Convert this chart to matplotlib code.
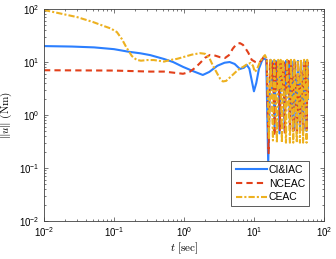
import matplotlib
matplotlib.use("Agg")
import matplotlib.pyplot as plt

plt.rcParams['font.family'] = ['Liberation Sans', 'DejaVu Sans']
plt.rcParams['mathtext.fontset'] = 'cm'

# ---- data ----
# CI&IAC (blue)
t_ci = [0.01, 0.025, 0.052, 0.1, 0.164, 0.24, 0.33, 0.52, 0.7, 0.97, 1.4, 1.86, 2.3, 3.0, 3.8, 4.5, 5.3,
        6.3, 7.2, 7.9, 8.6, 9.3, 10.0, 10.8, 11.8, 13.0, 13.8,
        15.0, 16.0, 17.2, 18.0, 18.9, 19.7, 20.5, 21.4, 22.3, 23.2, 24.2, 25.2, 26.3, 27.5, 28.8, 30.0, 31.3,
        32.8, 34.2, 35.5, 36.6, 38.2, 39.6, 41.1, 42.6, 44.0, 45.6, 47.2, 48.8, 50.6, 52.3, 54.0, 55.5, 56.6, 58.0, 59.0]
u_ci = [20, 19.6, 18.9, 17.5, 15.6, 14.6, 13.5, 11.4, 10.0, 8.1, 6.6, 5.7, 6.5, 8.5, 9.7, 10, 9.2,
        7.4, 7.8, 8.8, 7.5, 4.5, 2.8, 4.0, 7.5, 10.5, 11.8,
        11, 0.12, 11, 3, 10.5, 0.5, 10.5, 3, 10, 0.45, 10.5, 3, 10, 0.5, 10.5, 3, 10,
        0.5, 10.5, 3, 0.55, 10, 3, 0.5, 10.5, 3, 0.5, 10, 3, 0.5, 10.5, 3, 10, 0.5, 10, 2]

# NCEAC (red)
t_nc = [0.01, 0.1, 0.33, 0.52, 0.97, 1.2, 1.45, 1.7, 2.0, 2.35, 2.8, 3.3, 3.85, 4.4, 5.0, 5.6, 6.3, 7.0,
        7.6, 8.3, 9.3, 10.5, 11.5, 12.6, 13.8,
        15.2, 16.2, 17.0, 17.9, 18.8, 19.6, 20.6, 21.5, 22.4, 23.4, 24.4, 25.3, 26.5, 27.6, 28.9, 30.1, 31.4,
        32.9, 34.0, 35.3, 36.7, 38.0, 39.5, 41.2, 42.4, 44.2, 45.7, 47.0, 48.9, 50.7, 52.0, 54.2, 55.7, 56.8, 58.2, 59.0]
u_nc = [7.0, 6.9, 6.6, 6.6, 6.0, 6.5, 7.8, 9.6, 12.0, 13.6, 13.2, 12.3, 11.9, 13.5, 18, 21.5, 22.8, 21,
        18, 15, 11, 10, 9.6, 10.5, 12.5,
        11, 0.19, 10.5, 3.5, 10, 0.4, 10.5, 3, 10, 0.5, 10.5, 3, 10, 0.45, 10, 3, 10.5,
        0.5, 10, 3, 0.5, 10.5, 3, 0.45, 10, 3, 0.5, 10.5, 3, 0.5, 10, 3, 10.5, 0.5, 10, 2]

# CEAC (yellow)
t_ce = [0.01, 0.0296, 0.05, 0.072, 0.09, 0.11, 0.13, 0.15, 0.18, 0.21, 0.243, 0.3, 0.37, 0.45, 0.52, 0.63,
        0.8, 1.0, 1.3, 1.7, 2.0, 2.3, 2.6, 3.0, 3.3, 3.6, 4.0, 4.6, 5.5, 6.3, 7.0, 7.9, 9.0, 9.7, 10.3,
        11.0, 12.0, 13.2, 14.4,
        15.4, 16.4, 17.3, 17.9, 18.7, 19.5, 20.4, 21.3, 22.2, 23.2, 24.1, 25.1, 26.0, 27.1, 28.7, 29.8,
        30.9, 32.7, 33.8, 35.0, 36.5, 37.7, 39.0, 41.0, 42.3, 43.8, 45.5, 46.9, 48.6, 50.5, 52.2, 54.0, 56.5, 57.8, 59.0]
u_ce = [96, 70.6, 57, 47.7, 43, 36.8, 27, 19, 13, 11, 10.6, 10.9, 10.9, 10.5, 10.2, 10.9,
        11.5, 12.5, 13.8, 14.7, 14.3, 12, 8.5, 6.0, 4.8, 4.3, 4.4, 5.2, 6.5, 7.5, 8.1, 9.0, 9.6, 8.5, 6.5,
        7.2, 9.5, 12.0, 13.5,
        11, 0.35, 11, 3, 0.33, 11, 3, 0.3, 11, 3, 11, 0.3, 11, 3, 0.3, 11,
        3, 0.3, 11, 3, 0.3, 11, 3, 0.3, 11, 3, 0.3, 11, 3, 0.3, 11, 3, 0.3, 11, 2]

labels = ['CI&IAC', 'NCEAC', 'CEAC']
colors = ['#2B7FFF', '#E2401A', '#EDB120']

fig = plt.figure(figsize=(3.36, 2.59), dpi=100)
ax = fig.add_axes([0.131, 0.147, 0.833, 0.818])

ax.plot(t_ci, u_ci, '-', color=colors[0], lw=1.5, label=labels[0])
ax.plot(t_nc, u_nc, '--', color=colors[1], lw=1.5, dashes=(3, 2), label=labels[1])
ax.plot(t_ce, u_ce, '-.', color=colors[2], lw=1.5, dashes=(3, 1, 1, 1), label=labels[2])

ax.set_xscale('log')
ax.set_yscale('log')
ax.set_xlim(1e-2, 1e2)
ax.set_ylim(1e-2, 1e2)
ax.set_xticks([1e-2, 1e-1, 1e0, 1e1, 1e2])
ax.set_yticks([1e-2, 1e-1, 1e0, 1e1, 1e2])

ax.tick_params(which='both', direction='in', top=True, right=True,
               color='0.25', labelsize=7, width=0.5, pad=3)
ax.tick_params(which='major', length=3)
ax.tick_params(which='minor', length=1.6)
for s in ax.spines.values():
    s.set_color('0.25')
    s.set_linewidth(0.6)

ax.set_xlabel(r'$t\ \mathrm{[sec]}$', fontsize=8, labelpad=1)
ax.set_ylabel(r'$\|u\|\ \mathrm{(Nm)}$', fontsize=8, labelpad=4)

leg = ax.legend(loc='lower right', fontsize=7.5, frameon=True, fancybox=False,
                edgecolor='0.25', framealpha=1, borderpad=0.4, handlelength=3.0,
                handletextpad=0.2, labelspacing=0.35, borderaxespad=1.4)
leg.get_frame().set_linewidth(0.6)

fig.savefig('out.png', dpi=100)
